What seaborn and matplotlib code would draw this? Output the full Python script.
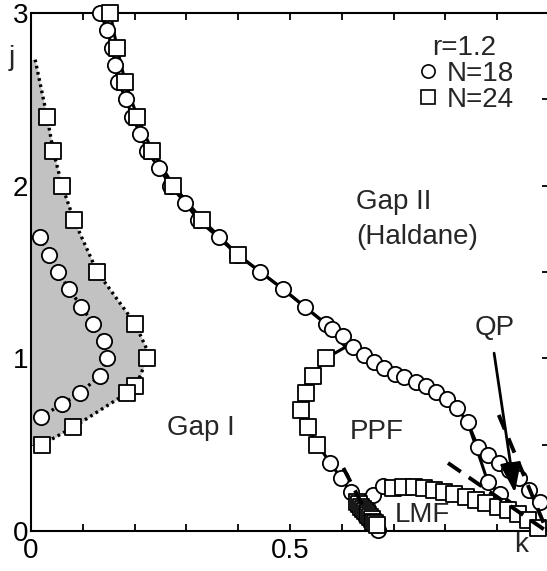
import numpy as np
import pandas as pd
import matplotlib
matplotlib.use("Agg")
import matplotlib.pyplot as plt
from matplotlib.lines import Line2D
import seaborn as sns

# ---------------- data (k, j) ----------------
# Gap I region, N=18 circles
gap1_18_k = [0.017, 0.035, 0.052, 0.074, 0.097, 0.120, 0.141, 0.147, 0.133, 0.095, 0.060, 0.019]
gap1_18_j = [1.70, 1.60, 1.50, 1.40, 1.30, 1.20, 1.10, 1.00, 0.90, 0.80, 0.735, 0.66]
# Gap I region, N=24 squares
gap1_24_k = [0.031, 0.043, 0.060, 0.083, 0.128, 0.201, 0.224, 0.201, 0.186, 0.081, 0.021]
gap1_24_j = [2.40, 2.20, 2.00, 1.80, 1.50, 1.20, 1.00, 0.84, 0.80, 0.60, 0.50]
# dotted boundary of shaded region
bound_k = [0.008, 0.031, 0.043, 0.060, 0.083, 0.128, 0.201, 0.224, 0.224, 0.211, 0.201, 0.186, 0.081, 0.021]
bound_j = [2.73, 2.40, 2.20, 2.00, 1.80, 1.50, 1.20, 1.05, 1.00, 0.90, 0.84, 0.80, 0.60, 0.50]

# Gap I / Gap II boundary, N=18 circles
upper18_k = [0.134, 0.147, 0.157, 0.162, 0.168, 0.184, 0.195, 0.211, 0.224, 0.248, 0.269, 0.298,
             0.323, 0.362, 0.398, 0.443, 0.487, 0.528, 0.569, 0.582, 0.602, 0.621, 0.642, 0.662,
             0.681, 0.702, 0.721, 0.743, 0.762, 0.781, 0.803, 0.822, 0.843, 0.863, 0.882, 0.903,
             0.923, 0.942, 0.961, 0.983]
upper18_j = [3.00, 2.90, 2.80, 2.70, 2.60, 2.50, 2.40, 2.30, 2.20, 2.10, 2.00, 1.90,
             1.80, 1.70, 1.60, 1.50, 1.40, 1.30, 1.20, 1.17, 1.13, 1.065, 1.02, 0.98,
             0.944, 0.909, 0.892, 0.863, 0.84, 0.805, 0.764, 0.712, 0.631, 0.486, 0.44, 0.394,
             0.353, 0.307, 0.237, 0.168]
# N=24 squares along upper boundary
upper24_k = [0.153, 0.166, 0.182, 0.205, 0.234, 0.275, 0.331, 0.400]
upper24_j = [3.00, 2.80, 2.60, 2.40, 2.20, 2.00, 1.80, 1.60]
# N=24 hidden continuation to branch point
link24_k = [0.443, 0.487, 0.528, 0.569, 0.607]
link24_j = [1.50, 1.40, 1.30, 1.20, 1.065]
# PPF left boundary, N=24 squares
ppf24_k = [0.569, 0.545, 0.530, 0.522, 0.534, 0.553]
ppf24_j = [1.00, 0.90, 0.80, 0.70, 0.60, 0.50]
# PPF left boundary, N=18 circles
ppf18_k = [0.578, 0.598, 0.617]
ppf18_j = [0.394, 0.307, 0.226]
# dense cluster at PPF/LMF bottom
clus_k = [0.630, 0.634, 0.638, 0.641, 0.645, 0.648, 0.651, 0.655, 0.658, 0.661, 0.664, 0.667]
clus_j = [0.170, 0.155, 0.140, 0.128, 0.115, 0.103, 0.092, 0.080, 0.068, 0.055, 0.045, 0.035]
clus18_k = [0.663, 0.669]
clus18_j = [0.045, 0.006]
# LMF upper boundary
lmf18_k = [0.660, 0.679]
lmf18_j = [0.208, 0.261]
lmf24_k = [0.698, 0.718, 0.739, 0.758, 0.778, 0.797, 0.816, 0.839, 0.859, 0.878, 0.901, 0.921,
           0.940, 0.959, 0.979]
lmf24_j = [0.249, 0.255, 0.255, 0.249, 0.237, 0.226, 0.214, 0.197, 0.180, 0.162, 0.139, 0.122,
           0.098, 0.064, 0.017]
# QP lower branch, N=18
qp18_k = [0.843, 0.882, 0.905, 1.000]
qp18_j = [0.631, 0.284, 0.214, 0.000]
# dashed extrapolations
dash1_k = [0.603, 0.640]
dash1_j = [0.365, 0.150]
dash2_k = [0.805, 0.990]
dash2_j = [0.394, 0.010]
dash3_k = [0.903, 0.996]
dash3_j = [0.672, 0.000]
# QP arrow (tail, head)
arrow_k = [0.894, 0.934]
arrow_j = [1.030, 0.222]

x_ticks = [0, 0.1, 0.2, 0.3, 0.4, 0.5, 0.6, 0.7, 0.8, 0.9, 1.0]
x_ticklabels = ["0", "", "", "", "", "0.5", "", "", "", "", ""]
y_ticks = [0, 0.5, 1, 1.5, 2, 2.5, 3]
y_ticklabels = ["0", "", "1", "", "2", "", "3"]

# ---------------- style ----------------
sns.set_theme(style="ticks")
plt.rcParams["font.family"] = ["Liberation Sans", "DejaVu Sans"]
FS = 20

fig = plt.figure(figsize=(5.47, 5.71), dpi=100)
ax = fig.add_axes([31 / 547, 40 / 571, 518 / 547, 518 / 571])

MS = 11
MEW = 1.3

def line(k, j, **kw):
    df = pd.DataFrame({"k": k, "j": j})
    sns.lineplot(data=df, x="k", y="j", sort=False, estimator=None, ax=ax,
                 color="black", legend=False, **kw)

def pts(k, j, marker, zorder, ms=MS):
    df = pd.DataFrame({"k": k, "j": j})
    sns.scatterplot(data=df, x="k", y="j", marker=marker, s=ms ** 2, facecolor="white",
                    edgecolor="black", linewidth=MEW, ax=ax, zorder=zorder,
                    clip_on=False, legend=False)

# shaded region
ax.fill_betweenx(bound_j, 0, bound_k, color="#c2c2c2", lw=0, zorder=1)
line(bound_k, bound_j, lw=2.4, linestyle=(0, (0.8, 1.1)), zorder=2)
line(gap1_18_k, gap1_18_j, lw=2.4, linestyle=(0, (0.8, 1.1)), zorder=2)

# solid lines
line(upper18_k, upper18_j, lw=2.2, zorder=2)
line(upper24_k + link24_k + ppf24_k + ppf18_k + clus_k[1:] + clus18_k,
     upper24_j + link24_j + ppf24_j + ppf18_j + clus_j[1:] + clus18_j, lw=2.2, zorder=2)
line(clus_k[:1] + lmf18_k + lmf24_k, clus_j[:1] + lmf18_j + lmf24_j, lw=2.2, zorder=2)
line(qp18_k, qp18_j, lw=2.2, zorder=2)

# dashed lines
for dk, dj in [(dash1_k, dash1_j), (dash2_k, dash2_j), (dash3_k, dash3_j)]:
    line(dk, dj, lw=2.8, linestyle=(0, (4, 2.5)), zorder=6)

# markers
pts(gap1_18_k, gap1_18_j, "o", 3)
pts(gap1_24_k, gap1_24_j, "s", 4)
pts(upper18_k, upper18_j, "o", 3)
pts(ppf18_k, ppf18_j, "o", 3)
pts(lmf18_k, lmf18_j, "o", 3)
pts(qp18_k[1:3], qp18_j[1:3], "o", 3)
pts(clus18_k, clus18_j, "o", 3)
pts(upper24_k, upper24_j, "s", 4)
pts(ppf24_k, ppf24_j, "s", 4)
pts(clus_k, clus_j, "s", 4)
pts(lmf24_k, lmf24_j, "s", 4)

# QP arrow
ax.annotate("", xy=(arrow_k[1], arrow_j[1]), xytext=(arrow_k[0], arrow_j[0]),
            arrowprops=dict(arrowstyle="-|>,head_length=0.9,head_width=0.32",
                            color="black", lw=2, mutation_scale=20, shrinkA=0, shrinkB=0),
            zorder=7)

# texts
ax.text(0.627, 1.905, "Gap II", ha="left", va="center", fontsize=FS)
ax.text(0.627, 1.70, "(Haldane)", ha="left", va="center", fontsize=FS)
ax.text(0.667, 0.573, "PPF", ha="center", va="center", fontsize=FS)
ax.text(0.756, 0.093, "LMF", ha="center", va="center", fontsize=FS, zorder=8)
ax.text(0.327, 0.596, "Gap I", ha="center", va="center", fontsize=FS)
ax.text(0.896, 1.175, "QP", ha="center", va="center", fontsize=FS)
ax.text(0.946, -0.08, "k", ha="center", va="center", fontsize=FS, clip_on=False)
ax.text(-0.037, 2.74, "j", ha="center", va="center", fontsize=FS, clip_on=False)

# legend
handles = [Line2D([], [], marker="o", ls="", mfc="white", mec="black", ms=9.5, mew=1.2),
           Line2D([], [], marker="s", ls="", mfc="white", mec="black", ms=9.5, mew=1.2)]
leg = ax.legend(handles, ["N=18", "N=24"], title="r=1.2", loc="upper right",
                frameon=False, fontsize=FS, title_fontsize=FS, handletextpad=0.2,
                handlelength=1.0, labelspacing=0.0, borderaxespad=0.2,
                bbox_to_anchor=(0.965, 0.99))

# axes
ax.set_xlim(0, 1)
ax.set_ylim(0, 3)
ax.set_xticks(x_ticks)
ax.set_xticklabels(x_ticklabels)
ax.set_yticks(y_ticks)
ax.set_yticklabels(y_ticklabels)
ax.set_xlabel("")
ax.set_ylabel("")
ax.tick_params(direction="in", top=True, right=True, length=5, width=1.3,
               labelsize=FS, colors="black")
ax.tick_params(axis="x", pad=5)
ax.tick_params(axis="y", pad=2)
for s in ax.spines.values():
    s.set_linewidth(1.5)
    s.set_color("black")
    s.set_visible(True)

fig.savefig("out.png", dpi=100)
